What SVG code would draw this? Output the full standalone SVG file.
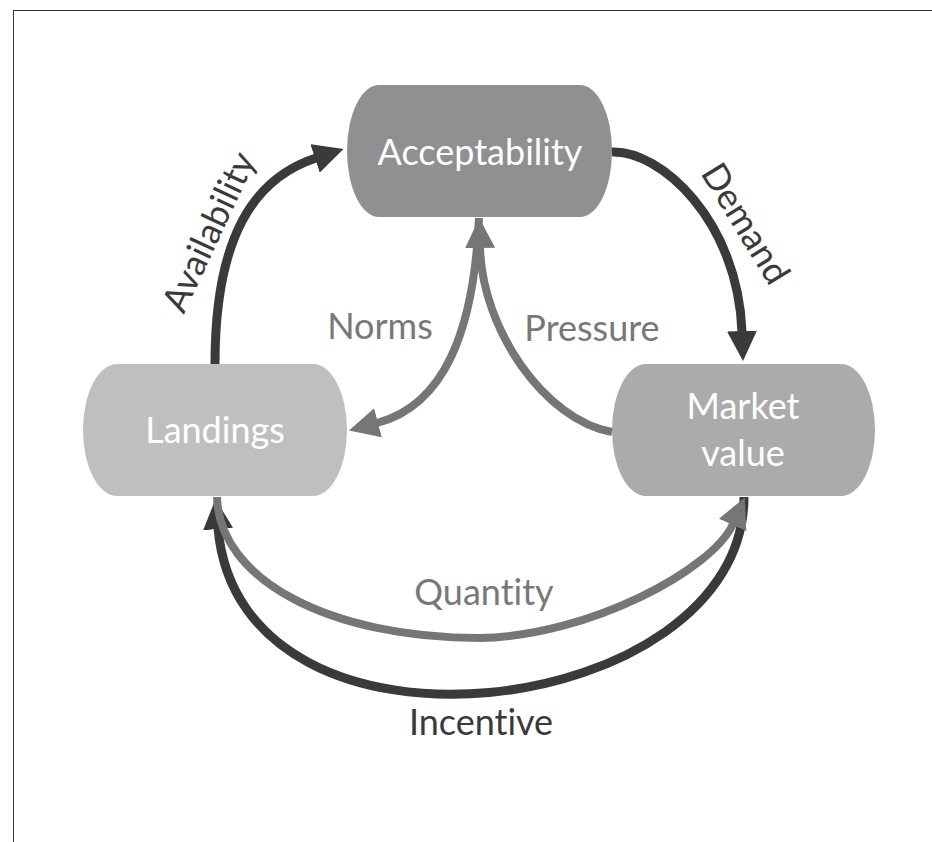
<svg xmlns="http://www.w3.org/2000/svg" width="932" height="842" viewBox="0 0 932 842">
  <style>
    .lbl { font-family: Lato, "Open Sans", "Liberation Sans", sans-serif; font-size: 36px; text-anchor: middle; font-variant-ligatures: none; font-feature-settings: "liga" 0, "clig" 0; }
    .node-text { fill: #ffffff; }
    .grey-text { fill: #787878; }
    .dark-text { fill: #3a3a3a; }
    .c-dark { fill: none; stroke: #3a3a3a; stroke-width: 9; }
    .c-grey { fill: none; stroke: #767676; stroke-width: 8; }
  </style>
  <defs>
    <marker id="ah-dark" viewBox="0 0 30 30" refX="1" refY="15" markerWidth="30" markerHeight="30" markerUnits="userSpaceOnUse" orient="auto">
      <path d="M0,0 L30,15 L0,30 Z" fill="#3a3a3a"/>
    </marker>
    <marker id="ah-grey" viewBox="0 0 30 30" refX="1" refY="15" markerWidth="30" markerHeight="30" markerUnits="userSpaceOnUse" orient="auto">
      <path d="M0,0 L30,15 L0,30 Z" fill="#767676"/>
    </marker>
  </defs>
  <rect x="13.5" y="10.5" width="940" height="850" fill="#ffffff" stroke="#333333" stroke-width="1"/>

  <g id="node-acceptability">
    <rect x="347" y="85" width="265" height="132" rx="32" ry="66" fill="#909090"/>
    <text class="lbl node-text" x="480" y="165">Acceptability</text>
  </g>
  <g id="node-landings">
    <rect x="83" y="364" width="264" height="132" rx="34" ry="66" fill="#bfbfbf"/>
    <text class="lbl node-text" x="215" y="443">Landings</text>
  </g>
  <g id="node-market-value">
    <rect x="612" y="364" width="263" height="132" rx="34" ry="66" fill="#ababab"/>
    <text class="lbl node-text" x="743" y="419">Market</text>
    <text class="lbl node-text" x="743" y="466">value</text>
  </g>

  <g id="connectors">
    <path id="availability" class="c-dark" d="M215,364 C215,235 255,178 316,158" marker-end="url(#ah-dark)"/>
    <path id="demand" class="c-dark" d="M612,152 C660,150 738,220 742,332" marker-end="url(#ah-dark)"/>
    <path id="norms" class="c-grey" d="M479,218 C474,330 445,405 377,423" marker-end="url(#ah-grey)"/>
    <path id="pressure" class="c-grey" d="M612,432 C545,420 482,330 480,247" marker-end="url(#ah-grey)"/>
    <path id="incentive" class="c-dark" d="M744,497 C744,720 240,785 218,528" marker-end="url(#ah-dark)"/>
    <path id="quantity" class="c-grey" d="M217,497 C219,580 330,638 480,638 C590,636 713,569 733,524" marker-end="url(#ah-grey)"/>

    <text class="lbl dark-text" transform="translate(220,237) rotate(-65)">Availability</text>
    <text class="lbl dark-text" transform="translate(735,230) rotate(58.5)">Demand</text>
    <text class="lbl grey-text" x="380" y="339">Norms</text>
    <text class="lbl grey-text" x="592" y="341">Pressure</text>
    <text class="lbl grey-text" x="484" y="605">Quantity</text>
    <text class="lbl dark-text" x="481" y="735">Incentive</text>
  </g>
</svg>
